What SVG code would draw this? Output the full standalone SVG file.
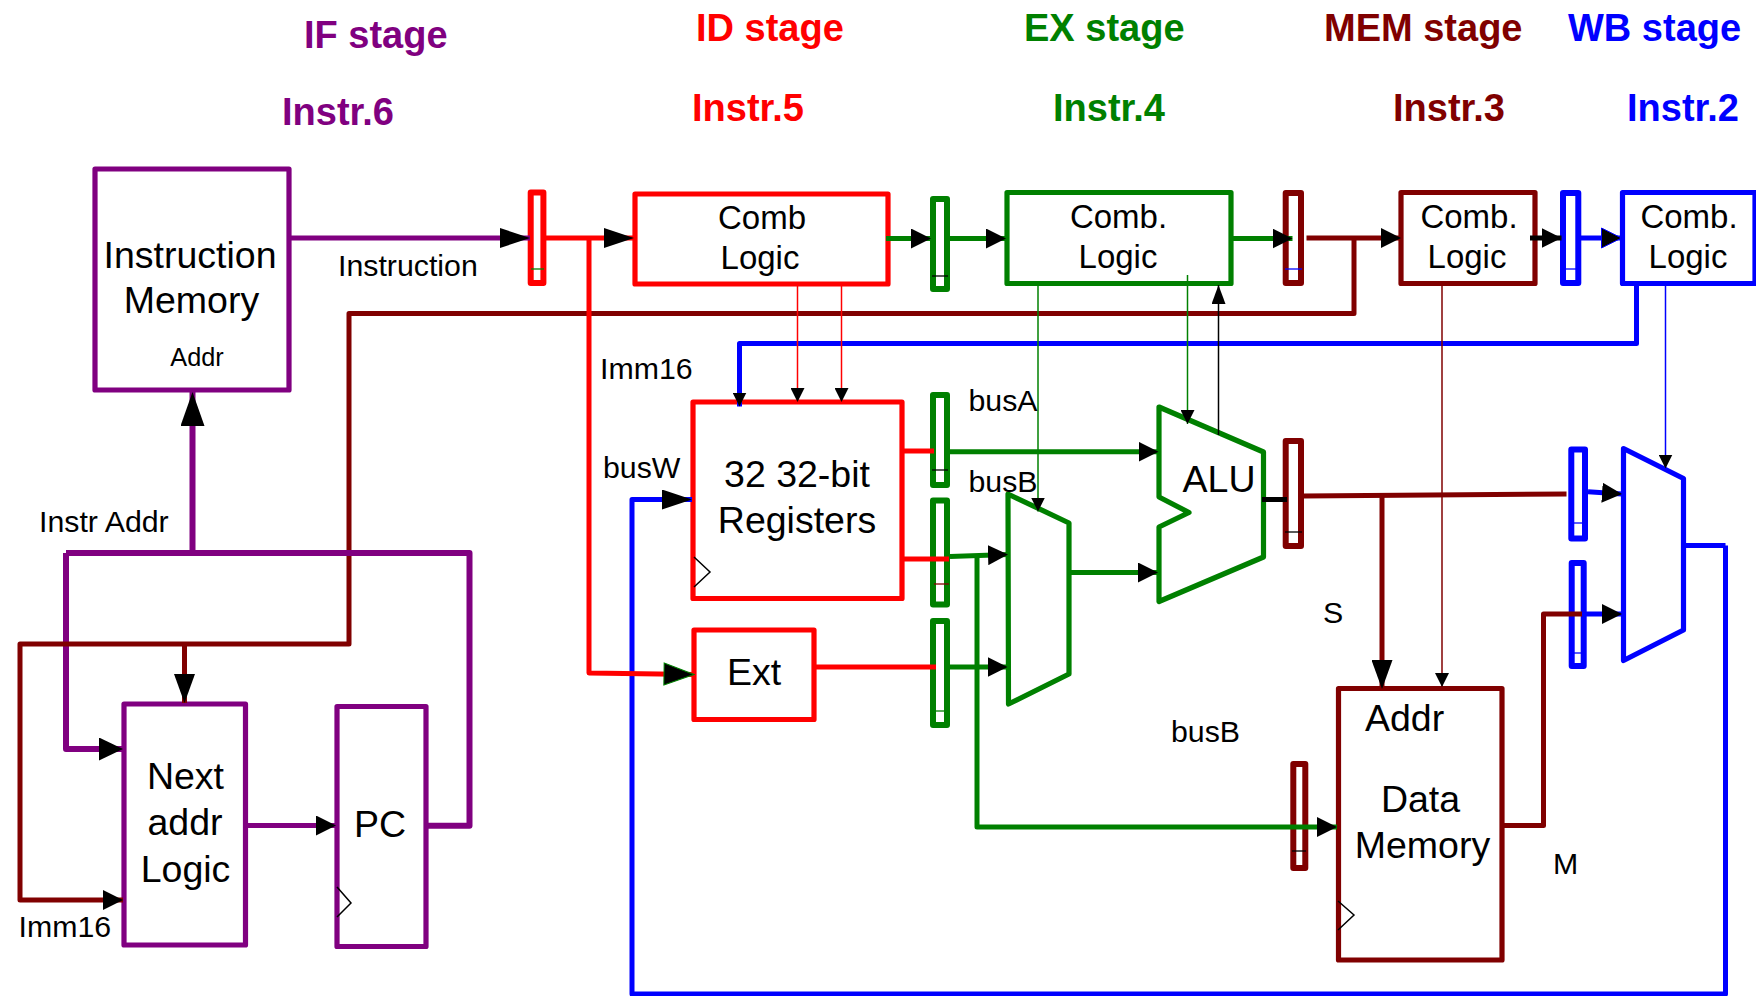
<svg xmlns="http://www.w3.org/2000/svg" width="1756" height="996" viewBox="0 0 1756 996">
<style>
text{font-family:"Liberation Sans",Arial,sans-serif;fill:#000}
.t37{font-size:37.5px}.t33{font-size:33px}.t30{font-size:30.300px}.t25{font-size:25.300px}
.c{text-anchor:middle}
.h{font-size:38px;font-weight:bold}
.box{fill:none;stroke-width:5.200;stroke-linejoin:round}
.reg{fill:none;stroke-width:6;stroke-linejoin:round}
.tick{fill:none;stroke-width:1.3}
.clk{fill:none;stroke:#000;stroke-width:1.5}
.w{fill:none;stroke-width:5;stroke-linejoin:round}
.n{fill:none;stroke-width:1.5}
.P{stroke:#800080}.R{stroke:#f00}.G{stroke:#008000}.M{stroke:#800000}.B{stroke:#00f}.K{stroke:#000}
.fP{fill:#800080}.fR{fill:#f00}.fG{fill:#008000}.fM{fill:#800000}.fB{fill:#00f}
.hd{fill:#000}
</style>
<defs>
<marker id="xl" markerUnits="userSpaceOnUse" viewBox="0 0 30 20" refX="30" refY="10" markerWidth="30" markerHeight="20" orient="auto"><path class="hd" d="M0 0L30 10L0 20Z"/></marker>
<marker id="up" markerUnits="userSpaceOnUse" viewBox="0 0 34 24" refX="34" refY="12" markerWidth="34" markerHeight="24" orient="auto"><path class="hd" d="M0 0L34 12L0 24Z"/></marker>
<marker id="dn" markerUnits="userSpaceOnUse" viewBox="0 0 29 21" refX="29" refY="10.5" markerWidth="29" markerHeight="21" orient="auto"><path class="hd" d="M0 0L29 10.5L0 21Z"/></marker>
<marker id="pl" markerUnits="userSpaceOnUse" viewBox="0 0 24 23" refX="24" refY="11.5" markerWidth="24" markerHeight="23" orient="auto"><path class="hd" d="M0 0L24 11.5L0 23Z"/></marker>
<marker id="l" markerUnits="userSpaceOnUse" viewBox="0 0 20 20" refX="20" refY="10" markerWidth="20" markerHeight="20" orient="auto"><path class="hd" d="M0 0L20 10L0 20Z"/></marker>
<marker id="lg" markerUnits="userSpaceOnUse" viewBox="-1 -1 32 24" refX="30" refY="11" markerWidth="32" markerHeight="24" orient="auto"><path class="hd" d="M0 0L30 11L0 22Z" stroke="#008000"/></marker>
<marker id="lb" markerUnits="userSpaceOnUse" viewBox="-1 -1 22 22" refX="20" refY="10" markerWidth="22" markerHeight="22" orient="auto"><path class="hd" d="M0 0L20 10L0 20Z" stroke="#00f"/></marker>
<marker id="s" markerUnits="userSpaceOnUse" viewBox="0 0 14 14" refX="14" refY="7" markerWidth="14" markerHeight="14" orient="auto"><path class="hd" d="M0 0L14 7L0 14Z"/></marker>
<marker id="sv" markerUnits="userSpaceOnUse" viewBox="0 0 19 14" refX="19" refY="7" markerWidth="19" markerHeight="14" orient="auto"><path class="hd" d="M0 0L19 7L0 14Z"/></marker>
</defs>

<g id="stage-labels">
<text class="h fP" x="304" y="48">IF stage</text>
<text class="h fP" x="282" y="125">Instr.6</text>
<text class="h fR" x="696" y="41">ID stage</text>
<text class="h fR" x="692" y="121">Instr.5</text>
<text class="h fG" x="1024" y="41">EX stage</text>
<text class="h fG" x="1053" y="121">Instr.4</text>
<text class="h fM" x="1324" y="41">MEM stage</text>
<text class="h fM" x="1393" y="121">Instr.3</text>
<text class="h fB" x="1568" y="41">WB stage</text>
<text class="h fB" x="1627" y="121">Instr.2</text>
</g>

<g id="instruction-memory"><rect class="box P" x="95" y="169" width="194" height="221"/>
<text class="t37 c" x="190" y="268">Instruction</text><text class="t37 c" x="191.500" y="313">Memory</text><text class="t25 c" x="197" y="366">Addr</text></g>
<g id="next-addr-logic"><rect class="box P" x="124" y="704" width="121.500" height="241"/>
<text class="t37 c" x="185.500" y="789">Next</text><text class="t37 c" x="185" y="835">addr</text><text class="t37 c" x="185.500" y="882">Logic</text></g>
<g id="pc"><rect class="box P" x="337" y="706.500" width="89" height="240"/><path class="clk" d="M337 887L351 903L337 917"/><text class="t37 c" x="380" y="837">PC</text></g>
<g id="if-id-reg"><rect class="reg R" x="530.700" y="192.500" width="12.700" height="90.500"/><path class="tick G" d="M531 269H544"/></g>
<g id="id-comb"><rect class="box R" x="635" y="194" width="253" height="90"/><text class="t33 c" x="762" y="228.500">Comb</text><text class="t33 c" x="760" y="268.500">Logic</text></g>
<g id="registers"><rect class="box R" x="693" y="402" width="209" height="196.500"/><path class="clk" d="M694 557L710 572L694 587"/><text class="t37 c" x="797" y="487">32 32-bit</text><text class="t37 c" x="797" y="533">Registers</text></g>
<g id="ext"><rect class="box R" x="694" y="630" width="120" height="89.500"/><text class="t37 c" x="754" y="685">Ext</text></g>
<g id="id-ex-reg-1"><rect class="reg G" x="933" y="199" width="14" height="90"/><path class="tick K" d="M932 276H948"/></g>
<g id="id-ex-reg-2"><rect class="reg G" x="933" y="395" width="14" height="90"/><path class="tick K" d="M932 470H948"/></g>
<g id="id-ex-reg-3"><rect class="reg G" x="933" y="500.500" width="14" height="104"/><path class="tick M" d="M934 584H949"/></g>
<g id="id-ex-reg-4"><rect class="reg G" x="933" y="621" width="14" height="104"/><path class="tick G" d="M934 711H945"/></g>
<g id="ex-comb"><rect class="box G" x="1007" y="192.500" width="224" height="91"/><text class="t33 c" x="1118.500" y="228">Comb.</text><text class="t33 c" x="1118" y="268">Logic</text></g>
<g id="ex-mux"><path class="box G" d="M1008 494L1069 523V674L1008.500 704Z"/></g>
<g id="alu"><path class="box G" d="M1159 407L1263.500 452V557L1159 601.500V527L1189 512.500L1159 497Z"/><text class="t37 c" x="1219" y="492">ALU</text></g>
<g id="ex-mem-reg-1"><rect class="reg M" x="1285.700" y="193" width="15.300" height="90"/><path class="tick B" d="M1285 269H1302"/></g>
<g id="ex-mem-reg-2"><rect class="reg M" x="1285.700" y="441" width="15.300" height="105"/><path class="tick K" d="M1285 532H1302"/></g>
<g id="ex-mem-reg-3"><rect class="reg M" x="1293.300" y="764" width="12" height="104"/><path class="tick K" d="M1292 851H1306"/></g>
<g id="mem-comb"><rect class="box M" x="1401" y="192.500" width="134" height="91"/><text class="t33 c" x="1469" y="228">Comb.</text><text class="t33 c" x="1467" y="268">Logic</text></g>
<g id="data-memory"><rect class="box M" x="1338.500" y="688.500" width="163.500" height="271.500"/><path class="clk" d="M1338 901L1354 915L1338 930"/>
<text class="t37" x="1365" y="731">Addr</text><text class="t37 c" x="1420.500" y="812">Data</text><text class="t37 c" x="1422.500" y="858">Memory</text></g>
<g id="mem-wb-reg-1"><rect class="reg B" x="1563" y="193" width="15.300" height="90"/><path class="tick B" d="M1565 269H1577"/></g>
<g id="mem-wb-reg-2"><rect class="reg B" x="1571.300" y="449.500" width="13.700" height="89"/><path class="tick B" d="M1572 523H1585"/></g>
<g id="mem-wb-reg-3"><rect class="reg B" x="1571.700" y="563" width="12" height="103"/><path class="tick B" d="M1572 653H1584"/></g>
<g id="wb-comb"><rect class="box B" x="1622.500" y="192.500" width="132.500" height="91"/><text class="t33 c" x="1689" y="228">Comb.</text><text class="t33 c" x="1688" y="268">Logic</text></g>
<g id="wb-mux"><path class="box B" d="M1623.500 448.500L1683.500 478.500V630L1623.500 660.500Z"/></g>

<g id="connectors">
<path class="w P" style="stroke-width:6" d="M66 553V749H123" marker-end="url(#pl)"/>
<path class="w P" d="M245 825.500H336" marker-end="url(#l)"/>
<path class="w M" d="M1354 238V313.500H349V644H20V900H123" marker-end="url(#l)"/>
<path class="w M" d="M184.500 644V703" marker-end="url(#dn)"/>
<path class="w P" style="stroke-width:6" d="M424 825.700H469.500V553H66"/>
<path class="w P" style="stroke-width:6" d="M192.500 553V392" marker-end="url(#up)"/>
<path class="w P" d="M289 238H530" marker-end="url(#xl)"/>
<path class="w R" d="M546 238H634" marker-end="url(#xl)"/>
<path class="w B" d="M1725.500 545.500H1683M1725.500 545.500V994H632V499.500H692" marker-end="url(#xl)"/>
<path class="w R" d="M589 238V673L694 674.500" marker-end="url(#lg)"/>
<path class="w R" d="M902 451H934"/>
<path class="w R" d="M902 559H949"/>
<path class="w R" d="M814 667H936"/>
<path class="w G" d="M886 238.500H931" marker-end="url(#l)"/>
<path class="w G" d="M950 238.500H1006" marker-end="url(#l)"/>
<path class="w G" d="M1231 238.500H1292.500" marker-end="url(#l)"/>
<path class="w G" d="M950 451.700H1158.500" marker-end="url(#l)"/>
<path class="w G" d="M950 556.500L1008 554.500" marker-end="url(#l)"/>
<path class="w G" d="M950 667H1007.500" marker-end="url(#l)"/>
<path class="w G" d="M1069 572.500H1158" marker-end="url(#l)"/>
<path class="w G" d="M977 556V827H1337" marker-end="url(#l)"/>
<path class="w M" d="M1306.500 238H1401" marker-end="url(#l)"/>
<path class="w M" d="M1304 496L1566.500 494"/>
<path class="w M" d="M1382 496V689" marker-end="url(#dn)"/>
<path class="w M" d="M1502 825.500H1543.500V614H1582.500"/>
<path class="w B" d="M1636.500 284V343.500H739.500V406.500" marker-end="url(#s)"/>
<path class="w B" d="M1581 238H1621.500" marker-end="url(#lb)"/>
<path class="w B" d="M1588 491.700L1622 494" marker-end="url(#l)"/>
<path class="w B" d="M1582 614H1622" marker-end="url(#l)"/>
<path class="w K" d="M1530 238H1561.500" marker-end="url(#l)"/>
<path class="w K" d="M1262 499.500H1287"/>
<path class="n R" d="M797.500 284V402" marker-end="url(#s)"/>
<path class="n R" d="M841.500 284V402" marker-end="url(#s)"/>
<path class="n G" d="M1038 284V511.500" marker-end="url(#s)"/>
<path class="n G" d="M1187.500 275V424" marker-end="url(#s)"/>
<path class="n K" d="M1218.500 435V285" marker-end="url(#sv)"/>
<path class="n M" d="M1442 284V687" marker-end="url(#s)"/>
<path class="n B" d="M1665.500 284V468.500" marker-end="url(#s)"/>
</g>

<g id="labels">
<text class="t30" x="338" y="276">Instruction</text>
<text class="t30" x="600" y="379">Imm16</text>
<text class="t30" x="603" y="478">busW</text>
<text class="t30" x="39" y="532">Instr Addr</text>
<text class="t30" x="18.500" y="937">Imm16</text>
<text class="t30" x="968.500" y="411">busA</text>
<text class="t30" x="968.500" y="492">busB</text>
<text class="t30" x="1171" y="742">busB</text>
<text class="t30" x="1323" y="623">S</text>
<text class="t30" x="1553" y="874">M</text>
</g>
</svg>
